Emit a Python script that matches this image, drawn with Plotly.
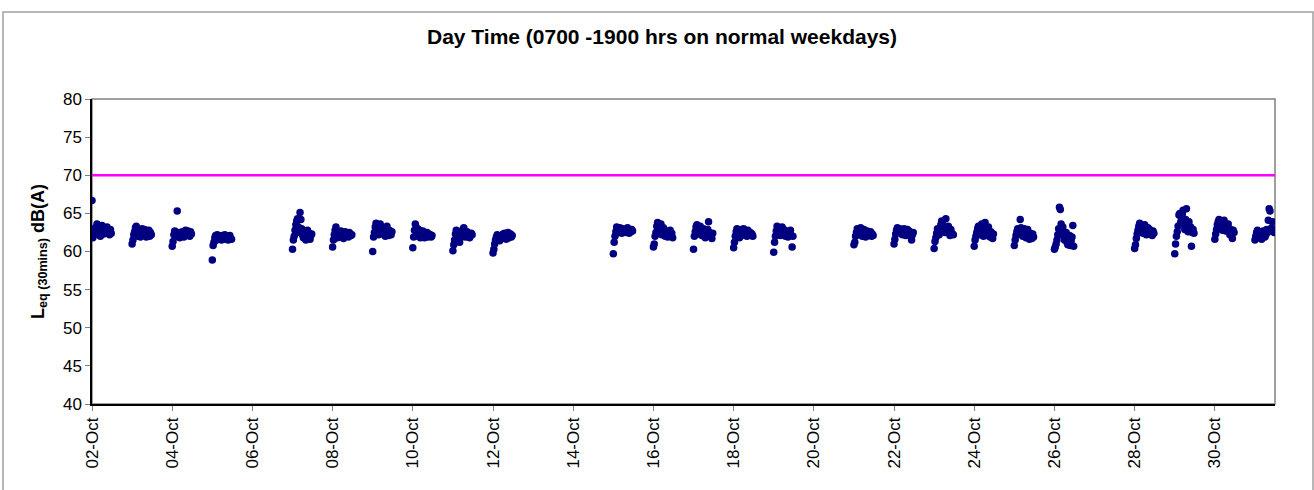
import datetime as dt
import plotly.graph_objects as go

# ---------------- data ----------------
days = [2, 3, 4, 5, 7, 8, 9, 10, 11, 12, 15, 16, 17, 18, 19,
        21, 22, 23, 24, 25, 26, 28, 29, 30, 31]

# Leq(30mins) dB(A), 07:00 .. 18:30 half-hourly for each day
leq_02 = [66.7, 61.8, 62.8, 63.0, 62.5, 63.2, 63.6, 63.0, 62.2, 62.6, 62.0, 62.8, 63.4, 62.7, 62.3, 63.0, 62.9, 62.4, 63.2, 62.8, 62.5, 62.2, 62.9, 62.4]
leq_03 = [61.0, 61.5, 62.2, 62.6, 63.1, 63.3, 62.5, 62.0, 62.8, 62.3, 61.9, 62.6, 63.0, 62.1, 62.4, 62.9, 62.2, 61.9, 62.7, 62.4, 62.8, 62.0, 62.5, 62.2]
leq_04 = [60.7, 61.3, 62.2, 62.7, 62.4, 62.0, 65.3, 62.5, 62.1, 61.8, 62.3, 62.0, 62.6, 62.2, 61.9, 62.4, 62.8, 62.1, 62.5, 62.7, 62.2, 62.0, 62.6, 62.3]
leq_05 = [58.9, 60.8, 61.2, 61.8, 62.1, 61.5, 62.2, 61.9, 61.6, 62.0, 61.8, 61.5, 62.1, 61.9, 61.7, 62.2, 61.6, 61.8, 62.0, 61.5, 61.9, 62.1, 61.7, 61.6]
leq_07 = [60.3, 61.5, 62.0, 62.8, 63.5, 64.0, 64.3, 63.2, 62.5, 65.1, 64.2, 63.0, 62.2, 61.8, 62.6, 62.0, 61.5, 62.3, 62.8, 61.9, 62.4, 61.6, 62.1, 62.3]
leq_08 = [60.6, 61.5, 62.2, 62.8, 63.2, 62.5, 61.8, 62.6, 62.0, 62.4, 62.7, 62.1, 62.5, 61.7, 62.3, 62.6, 62.0, 62.4, 62.2, 61.9, 62.5, 62.3, 62.1, 62.2]
leq_09 = [60.0, 61.9, 62.5, 63.2, 63.7, 63.5, 62.8, 62.2, 63.0, 63.6, 62.4, 62.9, 62.3, 63.1, 62.6, 62.0, 62.7, 63.3, 62.5, 62.1, 62.8, 62.4, 62.2, 62.6]
leq_10 = [60.5, 61.9, 62.8, 63.6, 63.2, 62.5, 62.0, 62.9, 62.3, 61.8, 62.6, 62.2, 62.7, 62.0, 61.8, 62.4, 62.1, 62.5, 61.9, 62.3, 62.0, 62.2, 61.9, 62.1]
leq_11 = [60.1, 60.9, 61.5, 62.3, 62.8, 62.6, 62.0, 61.5, 61.2, 61.8, 62.1, 62.5, 62.9, 63.1, 62.4, 61.9, 62.2, 62.6, 62.0, 62.3, 61.8, 62.1, 62.4, 62.2]
leq_12 = [59.8, 60.3, 61.0, 61.5, 61.9, 62.2, 61.6, 62.0, 61.4, 61.8, 62.1, 61.7, 62.3, 61.9, 62.4, 62.0, 61.6, 62.2, 62.5, 61.8, 62.0, 62.3, 61.9, 62.1]
leq_15 = [59.7, 61.2, 62.0, 62.6, 63.2, 63.0, 62.5, 62.8, 63.1, 62.7, 62.4, 62.9, 63.0, 62.6, 62.8, 62.5, 62.9, 63.1, 62.7, 62.4, 62.8, 62.6, 62.9, 62.7]
leq_16 = [60.6, 61.0, 62.0, 62.5, 63.3, 63.8, 63.0, 62.4, 62.8, 63.6, 62.2, 62.9, 63.1, 62.5, 62.0, 62.7, 62.3, 61.9, 62.6, 62.2, 62.8, 62.0, 62.4, 61.8]
leq_17 = [60.3, 62.0, 62.6, 63.2, 63.5, 62.8, 62.3, 62.9, 63.3, 62.5, 62.1, 62.7, 63.0, 62.4, 61.8, 62.6, 62.2, 62.9, 63.9, 62.5, 62.0, 62.3, 61.7, 62.4]
leq_18 = [60.5, 61.2, 62.0, 62.6, 63.0, 62.8, 62.2, 61.8, 62.5, 62.9, 62.3, 62.7, 63.0, 62.4, 62.1, 62.6, 62.0, 62.8, 62.4, 62.2, 62.5, 62.1, 62.3, 62.0]
leq_19 = [59.9, 61.2, 62.0, 62.7, 63.3, 63.0, 62.4, 62.8, 62.1, 62.6, 63.2, 62.5, 62.9, 62.3, 62.0, 62.7, 62.4, 61.9, 62.6, 62.2, 62.8, 62.1, 60.6, 62.0]
leq_21 = [60.9, 61.2, 62.0, 62.5, 63.0, 62.8, 62.3, 62.7, 63.1, 62.5, 62.0, 62.6, 62.9, 62.3, 61.9, 62.4, 62.7, 62.1, 62.5, 62.2, 62.6, 62.0, 62.3, 62.1]
leq_22 = [61.0, 61.6, 62.3, 62.8, 63.1, 62.6, 62.9, 63.0, 62.4, 62.7, 62.2, 62.8, 63.0, 62.5, 62.1, 62.6, 62.9, 62.3, 62.7, 62.4, 62.0, 61.5, 62.2, 62.5]
leq_23 = [60.4, 61.3, 61.8, 62.4, 63.0, 62.7, 62.2, 62.9, 63.5, 64.0, 63.6, 62.8, 63.2, 62.5, 64.3, 63.0, 62.6, 63.3, 62.7, 62.1, 62.9, 62.4, 62.3, 62.2]
leq_24 = [60.7, 61.5, 62.0, 62.5, 63.0, 63.3, 62.8, 62.2, 62.7, 63.6, 62.4, 62.0, 62.9, 63.8, 62.6, 62.1, 62.8, 63.2, 62.4, 61.9, 62.6, 62.2, 61.7, 62.3]
leq_25 = [60.8, 61.5, 62.1, 62.6, 63.0, 62.4, 62.8, 64.2, 63.1, 62.5, 62.0, 62.7, 63.0, 62.3, 61.8, 62.6, 62.9, 62.2, 61.6, 62.4, 62.0, 61.7, 62.3, 61.9]
leq_26 = [60.3, 60.6, 61.0, 61.5, 62.2, 63.0, 65.8, 65.5, 63.6, 62.8, 63.2, 62.0, 61.5, 61.8, 62.5, 61.2, 60.9, 61.6, 62.1, 60.8, 61.4, 61.9, 63.4, 60.7]
leq_28 = [60.4, 60.9, 61.7, 62.3, 62.8, 63.3, 63.7, 63.0, 62.6, 63.2, 62.4, 62.9, 63.5, 62.7, 62.2, 62.8, 63.1, 62.5, 62.9, 62.3, 62.6, 62.1, 62.7, 62.4]
leq_29 = [59.7, 61.0, 62.0, 62.6, 63.3, 64.8, 65.0, 63.8, 64.3, 64.9, 65.4, 63.6, 62.9, 64.2, 65.6, 63.5, 62.6, 63.9, 62.8, 63.2, 60.7, 62.5, 62.9, 62.4]
leq_30 = [61.6, 62.3, 62.9, 63.5, 63.9, 64.2, 63.6, 64.0, 63.3, 62.8, 63.7, 64.1, 63.2, 62.7, 63.4, 62.9, 63.6, 62.6, 62.2, 62.9, 62.4, 61.7, 62.8, 62.5]
leq_31 = [61.5, 62.0, 62.5, 62.8, 62.2, 61.8, 62.6, 62.3, 61.6, 62.1, 62.7, 62.4, 61.9, 62.2, 62.9, 62.5, 64.1, 65.6, 65.3, 62.8, 63.1, 63.9, 62.6, 62.5]

leq_by_day = [leq_02, leq_03, leq_04, leq_05, leq_07, leq_08, leq_09, leq_10, leq_11, leq_12,
              leq_15, leq_16, leq_17, leq_18, leq_19, leq_21, leq_22, leq_23, leq_24, leq_25,
              leq_26, leq_28, leq_29, leq_30, leq_31]

limit_db = 70
tick_days = [2, 4, 6, 8, 10, 12, 14, 16, 18, 20, 22, 24, 26, 28, 30]
tick_labels = [f"{d:02d}-Oct" for d in tick_days]
y_ticks = [40, 45, 50, 55, 60, 65, 70, 75, 80]

YEAR = 2008
# ---------------- build ----------------
xs, ys = [], []
for d, vals in zip(days, leq_by_day):
    start = dt.datetime(YEAR, 10, d, 7, 0)
    for i, v in enumerate(vals):
        xs.append(start + dt.timedelta(minutes=30 * i))
        ys.append(v)

x_start = dt.datetime(YEAR, 10, 2, 7, 0)
x_end = dt.datetime(YEAR, 10, 31, 19, 0)

fig = go.Figure()
fig.add_trace(go.Scatter(
    x=[x_start, x_end], y=[limit_db, limit_db], mode="lines",
    line=dict(color="#FF00FF", width=2.5), hoverinfo="skip", showlegend=False,
))
fig.add_trace(go.Scatter(
    x=xs, y=ys, mode="markers",
    marker=dict(color="#000080", size=7.5, line=dict(width=0)),
    showlegend=False,
))

FONT = "Liberation Sans, Arial, sans-serif"
L, R, T, B = 92, 39, 99, 86
W, H = 1314, 490
pw, ph = W - L - R, H - T - B

def px_x(p):
    return (p - L) / pw

def px_y(p):
    return (H - B - p) / ph

fig.update_layout(
    width=W, height=H,
    margin=dict(l=L, r=R, t=T, b=B, pad=0),
    paper_bgcolor="white", plot_bgcolor="white",
    font=dict(family=FONT, size=17, color="black"),
    title=dict(
        text="<b>Day Time (0700 -1900 hrs on normal weekdays)</b>",
        x=662 / W, xanchor="center", xref="container",
        y=1 - 37 / H, yanchor="middle", yref="container",
        font=dict(family=FONT, size=21, color="black"),
    ),
    xaxis=dict(
        type="date", range=[x_start, x_end],
        tickmode="array",
        tickvals=[dt.datetime(YEAR, 10, d, 7, 0) for d in tick_days],
        ticktext=tick_labels, tickangle=-90,
        ticks="outside", ticklen=5, tickcolor="#808080", tickwidth=1,
        showgrid=False, zeroline=False,
        showline=True, linecolor="black", linewidth=1.5,
        tickfont=dict(family=FONT, size=17, color="black"),
    ),
    yaxis=dict(
        range=[40, 80], tickvals=y_ticks,
        ticks="outside", ticklen=5, tickcolor="#808080", tickwidth=1,
        showgrid=False, zeroline=False,
        showline=True, linecolor="black", linewidth=1.5,
        tickfont=dict(family=FONT, size=17, color="black"),
        title=dict(text="<b>L<sub>eq (30mins)</sub> dB(A)</b>",
                   font=dict(family=FONT, size=18, color="black"), standoff=14),
    ),
    shapes=[
        # plot area frame (grey top/right)
        dict(type="rect", xref="paper", yref="paper", x0=0, x1=1, y0=0, y1=1,
             line=dict(color="#808080", width=1.5), layer="below"),
        # outer chart border
        dict(type="rect", xref="paper", yref="paper",
             x0=px_x(3), x1=px_x(1313), y0=px_y(520), y1=px_y(12),
             line=dict(color="#A0A0A0", width=1.5), layer="below"),
    ],
)

fig.write_html("out.html",
               config={"displayModeBar": False},
               post_script="document.body.style.margin='0';document.body.style.overflow='hidden';")
